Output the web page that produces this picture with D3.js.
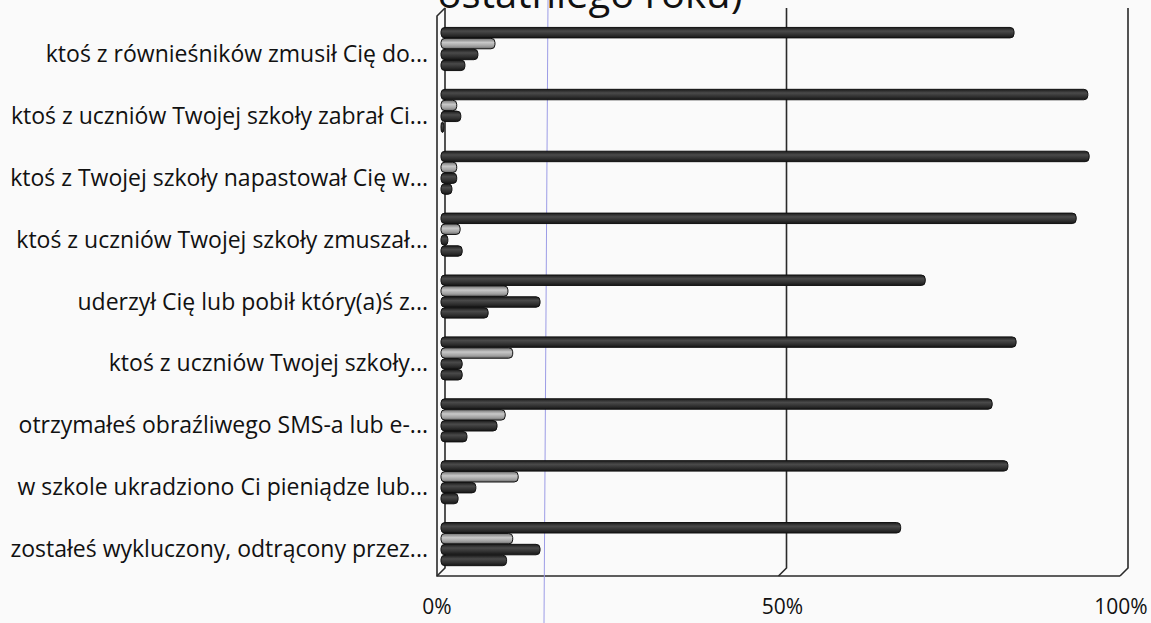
<!DOCTYPE html>
<html>
<head>
<meta charset="utf-8">
<script src="https://cdn.jsdelivr.net/npm/d3@7"></script>
<style>
  body { margin: 0; background: #fafafa; }
  svg { display: block; }
</style>
</head>
<body>
<div id="chart"></div>
<script>
/* global d3 */
const categories = [
    "ktoś z równieśników zmusił Cię do...",
    "ktoś z uczniów Twojej szkoły zabrał Ci...",
    "ktoś z Twojej szkoły napastował Cię w...",
    "ktoś z uczniów Twojej szkoły zmuszał...",
    "uderzył Cię lub pobił który(a)ś z...",
    "ktoś z uczniów Twojej szkoły...",
    "otrzymałeś obraźliwego SMS-a lub e-...",
    "w szkole ukradziono Ci pieniądze lub...",
    "zostałeś wykluczony, odtrącony przez..."
];
const seriesA = [0.839, 0.947, 0.949, 0.930, 0.709, 0.842, 0.807, 0.830, 0.673];
const seriesB = [0.079, 0.023, 0.023, 0.028, 0.098, 0.105, 0.094, 0.113, 0.105];
const seriesC = [0.054, 0.029, 0.023, 0.010, 0.145, 0.031, 0.082, 0.051, 0.145];
const seriesD = [0.035, 0.003, 0.016, 0.031, 0.069, 0.031, 0.038, 0.025, 0.096];
const seriesNames = ["a", "b", "c", "d"];
const tickValues = [0, 0.5, 1];
const titleText = "ostatniego roku)";

const width = 1151;
const height = 623;
const font = "'Open Sans', 'Noto Sans', sans-serif";

const svg = d3.select("#chart").append("svg")
    .attr("width", width)
    .attr("height", height);

svg.append("rect").attr("width", width).attr("height", height).attr("fill", "#fafafa");

// gradients for the cylinder-ish bars
const defs = svg.append("defs");
function grad(id, stops) {
    const g = defs.append("linearGradient").attr("id", id)
        .attr("x1", 0).attr("y1", 0).attr("x2", 0).attr("y2", 1);
    stops.forEach(s => g.append("stop").attr("offset", s[0]).attr("stop-color", s[1]));
}
grad("dark", [[0, "#1c1c1c"], [0.35, "#4a4a4a"], [0.7, "#303030"], [1, "#161616"]]);
grad("light", [[0, "#707070"], [0.4, "#c8c8c8"], [0.75, "#a0a0a0"], [1, "#6a6a6a"]]);

const x = d3.scaleLinear().domain([0, 1]).range([441, 1124]);
const back = 4, front = -4;        // depth offsets of the 3d walls
const yTop = 8, yBack = 568, yFront = 576;

const y = d3.scaleBand().domain(categories).range([18, 575]).paddingInner(0);
const inner = d3.scaleBand().domain(seriesNames).range([9, 53]).padding(0.04);

const values = { a: seriesA, b: seriesB, c: seriesC, d: seriesD };
const fills = { a: "url(#dark)", b: "url(#light)", c: "url(#dark)", d: "url(#dark)" };

// title, cut off by the top of the scan
svg.append("text")
    .attr("x", 590)
    .attr("y", 8)
    .attr("text-anchor", "middle")
    .style("font-family", font)
    .style("font-size", "40px")
    .attr("fill", "#111")
    .text(titleText);

// walls and gridlines
const frame = svg.append("g")
    .attr("fill", "none")
    .attr("stroke", "#2a2a2a")
    .attr("stroke-width", 1.6);

frame.selectAll("path.grid")
    .data(tickValues)
    .join("path")
    .attr("class", "grid")
    .attr("d", d => `M${x(d) + back},${yTop}V${yBack}L${x(d) + front},${yFront}`);

frame.append("path")
    .attr("d", `M${x(0) + back},${yTop}L${x(0) + front},${yTop + 8}V${yFront}H${x(1) + front}`);

// scanner streak
svg.append("line")
    .attr("x1", 548).attr("y1", 0).attr("x2", 544).attr("y2", height)
    .attr("stroke", "#9c9ce6").attr("stroke-width", 1);

// bars
const groups = svg.append("g").selectAll("g")
    .data(categories)
    .join("g")
    .attr("transform", d => `translate(0,${y(d)})`);

groups.selectAll("rect")
    .data((d, i) => seriesNames.map(s => ({ s: s, v: values[s][i] })))
    .join("rect")
    .attr("x", x(0))
    .attr("y", d => inner(d.s))
    .attr("width", d => Math.max(x(d.v) - x(0), 3))
    .attr("height", inner.bandwidth())
    .attr("rx", 4)
    .attr("fill", d => fills[d.s])
    .attr("stroke", "#111")
    .attr("stroke-width", 1);

// category labels
svg.append("g").selectAll("text")
    .data(categories)
    .join("text")
    .attr("x", 428)
    .attr("y", d => y(d) + y.bandwidth() / 2 + 13)
    .attr("text-anchor", "end")
    .style("font-family", font)
    .style("font-size", "23px")
    .attr("fill", "#111")
    .text(d => d);

// value axis labels
svg.append("g").selectAll("text")
    .data(tickValues)
    .join("text")
    .attr("x", d => x(d) + front + (d === 0 ? 0 : d === 1 ? 1 : 4))
    .attr("y", 614)
    .attr("text-anchor", "middle")
    .style("font-family", font)
    .style("font-size", "21px")
    .attr("fill", "#111")
    .text(d3.format(".0%"));
</script>
</body>
</html>
